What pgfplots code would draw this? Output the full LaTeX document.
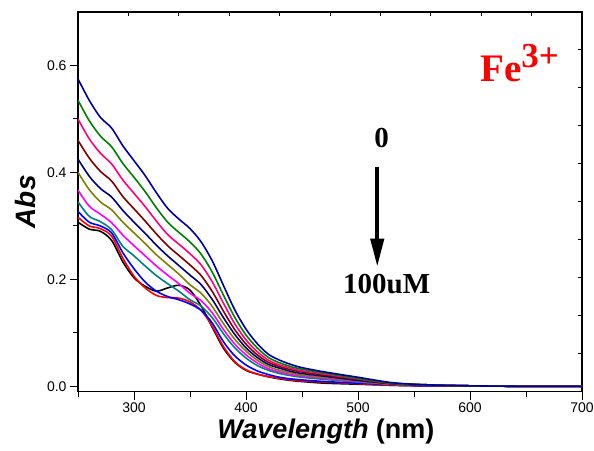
\documentclass[border=0pt]{standalone}
\usepackage{fontspec}
\setmainfont{Liberation Sans}
\newfontfamily\tnr{Liberation Serif}
\usepackage{pgfplots}
\pgfplotsset{compat=1.18}
\usepackage{pgfplotstable}
\usetikzlibrary{arrows.meta}
\definecolor{cnavy}{RGB}{0,0,160}
\definecolor{cgreen}{RGB}{0,128,0}
\definecolor{cpink}{RGB}{255,0,128}
\definecolor{cmaroon}{RGB}{128,0,0}
\definecolor{cnavyb}{RGB}{0,0,128}
\definecolor{colive}{RGB}{128,128,0}
\definecolor{cmag}{RGB}{255,0,255}
\definecolor{cteal}{RGB}{0,128,128}
\definecolor{cblue}{RGB}{0,0,255}
\definecolor{cred}{RGB}{255,0,0}
\pgfplotstableread{
x   a    b    c    d    e    f    g    h    i    j    k
250 .307 .316 .327 .345 .367 .400 .425 .460 .500 .535 .575
260 .294 .300 .307 .318 .337 .368 .393 .427 .463 .497 .535
270 .290 .295 .300 .308 .322 .345 .370 .402 .436 .468 .503
280 .273 .281 .287 .293 .306 .330 .354 .384 .416 .448 .483
290 .233 .240 .250 .262 .283 .307 .329 .355 .386 .417 .450
300 .203 .206 .220 .244 .263 .287 .307 .332 .361 .391 .422
310 .187 .184 .195 .225 .244 .267 .286 .309 .336 .364 .394
320 .178 .170 .178 .207 .225 .246 .264 .285 .309 .334 .362
330 .184 .166 .168 .192 .208 .228 .244 .263 .284 .307 .333
340 .189 .165 .162 .178 .192 .210 .226 .245 .266 .288 .313
350 .180 .158 .154 .162 .174 .190 .208 .227 .248 .270 .295
360 .150 .142 .142 .150 .160 .174 .190 .207 .227 .247 .270
370 .110 .112 .118 .128 .137 .149 .162 .177 .195 .213 .234
380 .071 .074 .083 .098 .106 .117 .128 .140 .155 .170 .188
390 .045 .046 .057 .072 .079 .088 .097 .106 .117 .129 .143
400 .030 .031 .040 .053 .059 .066 .072 .079 .087 .096 .107
410 .023 .023 .029 .039 .044 .049 .054 .059 .065 .072 .080
420 .018 .018 .022 .030 .033 .037 .041 .045 .049 .054 .060
430 .014 .015 .017 .024 .027 .030 .034 .037 .040 .044 .049
440 .011 .012 .014 .020 .022 .025 .028 .031 .034 .037 .041
450 .009 .010 .012 .017 .019 .021 .024 .027 .029 .032 .035
470 .006 .008 .009 .013 .015 .017 .019 .021 .023 .025 .027
500 .004 .005 .006 .008 .009 .010 .011 .013 .014 .015 .017
530 .002 .002 .003 .004 .004 .004 .005 .005 .006 .006 .007
560 .001 .001 .001 .002 .002 .002 .002 .003 .003 .003 .003
600 .001 .001 .001 .001 .001 .001 .001 .001 .001 .001 .001
650 .000 .001 .000 .000 .000 .000 .000 .000 .000 .000 .000
700 .000 .001 .000 .000 .000 .000 .000 .000 .000 .000 .000
}\spectra
\begin{document}
\begin{tikzpicture}
\useasboundingbox (0pt,0pt) rectangle (594pt,450pt);
\begin{axis}[
  at={(78pt,58.3pt)}, anchor=south west,
  width=504pt, height=379.7pt, scale only axis,
  xmin=250, xmax=700, ymin=-0.01, ymax=0.70,
  tick pos=left, tick align=outside,
  xtick={300,400,500,600,700}, minor xtick={250,350,450,550,650},
  ytick={0,0.2,0.4,0.6}, minor ytick={0.1,0.3,0.5},
  yticklabel style={/pgf/number format/fixed,/pgf/number format/precision=1,/pgf/number format/fixed zerofill},
  xticklabel style={/pgf/number format/1000 sep={}, yshift=1pt},
  /pgf/number format/assume math mode=true,
  ticklabel style={font=\fontsize{14}{14}\selectfont},
  major tick length=8pt, minor tick length=5pt,
  tick style={line width=1pt, black},
  axis line style={line width=1.2pt},
  xlabel={\textbf{\textit{Wavelength} (nm)}},
  ylabel={\textbf{\textit{Abs}}},
  xlabel style={font=\fontsize{27}{27}\selectfont, at={(axis description cs:0.492,-0.104)}, anchor=center},
  ylabel style={font=\fontsize{28}{28}\selectfont, at={(axis description cs:-0.1032,0.5)}, anchor=center},
  every axis plot/.append style={line width=1.6pt, smooth, tension=0.5, no markers},
]
\addplot[black]   table[x=x,y=a]{\spectra};
\addplot[cred]    table[x=x,y=b]{\spectra};
\addplot[cblue]   table[x=x,y=c]{\spectra};
\addplot[cteal]   table[x=x,y=d]{\spectra};
\addplot[cmag]    table[x=x,y=e]{\spectra};
\addplot[colive]  table[x=x,y=f]{\spectra};
\addplot[cnavyb]  table[x=x,y=g]{\spectra};
\addplot[cmaroon] table[x=x,y=h]{\spectra};
\addplot[cpink]   table[x=x,y=i]{\spectra};
\addplot[cgreen]  table[x=x,y=j]{\spectra};
\addplot[cnavy]   table[x=x,y=k]{\spectra};
\node[anchor=base west, inner sep=0pt, text=red, font=\tnr\bfseries\fontsize{39}{39}\selectfont] at (axis cs:608.9,0.570) {Fe\raisebox{14pt}{\fontsize{35}{35}\selectfont 3+}};
\node[anchor=center, inner sep=0pt, font=\tnr\bfseries\fontsize{29}{29}\selectfont] at (axis cs:521.2,0.465) {0};
\node[anchor=center, inner sep=0pt, font=\tnr\bfseries\fontsize{29}{29}\selectfont] at (axis cs:525.6,0.192) {100uM};
\draw[line width=4pt, -{Triangle[width=13pt,length=28pt]}] (axis cs:517.2,0.4107) -- (axis cs:517.2,0.2237);
\end{axis}
\begin{axis}[
  at={(78pt,58.3pt)}, anchor=south west,
  width=504pt, height=379.7pt, scale only axis,
  xmin=0, xmax=1, ymin=0, ymax=1,
  axis line style={draw=none},
  xtick={0.1,0.2,...,0.95}, ytick={0.1,0.2,...,0.95},
  xtick pos=right, ytick pos=right, tick align=inside,
  xticklabels={}, yticklabels={},
  major tick length=4pt, tick style={line width=1pt, black},
]
\end{axis}
\end{tikzpicture}
\end{document}
